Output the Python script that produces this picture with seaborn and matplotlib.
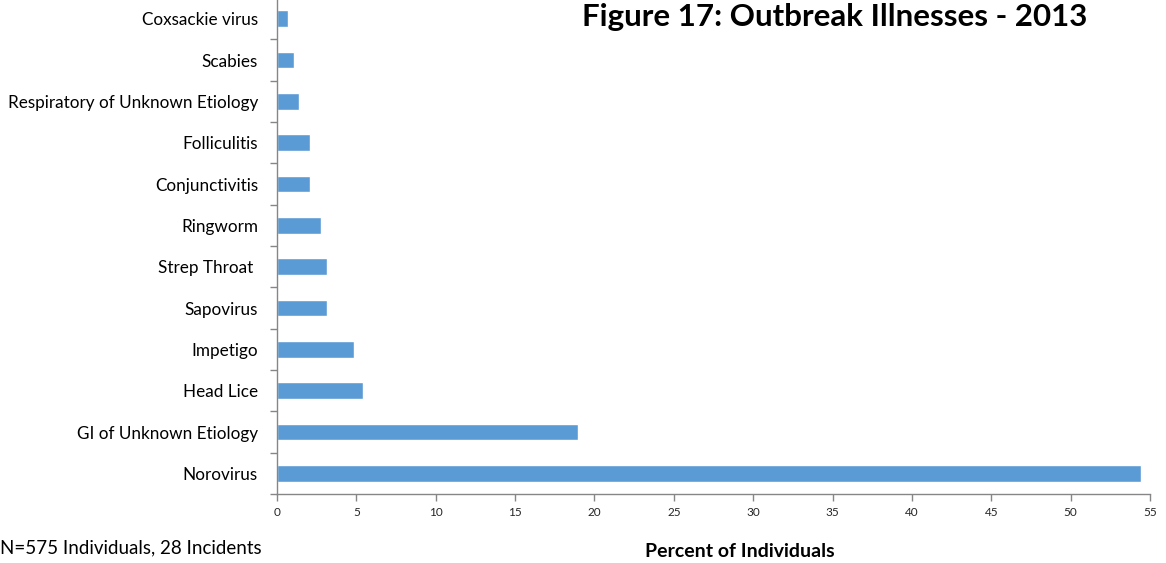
import matplotlib
matplotlib.use("Agg")
import matplotlib.pyplot as plt
import seaborn as sns
import pandas as pd
from matplotlib.ticker import FixedLocator

# Outbreak illnesses, percent of 575 individuals (top of chart first)
illnesses = [
    "Coxsackie virus",
    "Scabies",
    "Respiratory of Unknown Etiology",
    "Folliculitis",
    "Conjunctivitis",
    "Ringworm",
    "Strep Throat ",
    "Sapovirus",
    "Impetigo",
    "Head Lice",
    "GI of Unknown Etiology",
    "Norovirus",
]
percent = [0.70, 1.04, 1.39, 2.09, 2.09, 2.78, 3.13, 3.13, 4.87, 5.39, 18.96, 54.43]
x_ticks = list(range(0, 60, 5))

df = pd.DataFrame({"illness": illnesses, "percent": percent})

sns.set_theme(style="white")
plt.rcParams["font.family"] = ["Lato", "DejaVu Sans"]

fig = plt.figure(figsize=(11.66, 5.63), dpi=100)
ax = fig.add_axes([277 / 1166, 69 / 563, 873 / 1166, 496 / 563])

sns.barplot(data=df, x="percent", y="illness", orient="h", color="#5B9BD5",
            saturation=1, width=0.4, ax=ax)

axis_grey = "#868686"
ax.set_xlim(0, 55)
ax.set_ylim(11.5, -0.5)
ax.set_xticks(x_ticks)
ax.set_xticklabels([str(t) for t in x_ticks], fontsize=8.5, color="#262626")
ax.tick_params(axis="x", length=5, width=1, color=axis_grey, pad=4, direction="out", bottom=True)
ax.tick_params(axis="y", which="major", length=0, pad=13.7, labelsize=12.3, labelcolor="#000000")
ax.yaxis.set_minor_locator(FixedLocator([i - 0.5 for i in range(13)]))
ax.tick_params(axis="y", which="minor", length=5, width=1, color=axis_grey, left=True, direction="out")
for side in ("top", "right"):
    ax.spines[side].set_visible(False)
for side in ("left", "bottom"):
    ax.spines[side].set_color(axis_grey)
    ax.spines[side].set_linewidth(1)
ax.set_xlabel("")
ax.set_ylabel("")

fig.text(835 / 1166, 1 - 26 / 563, "Figure 17: Outbreak Illnesses - 2013",
         ha="center", va="baseline", fontsize=22.5, fontweight="bold", color="#000000")
fig.text(740 / 1166, 1 - 557 / 563, "Percent of Individuals",
         ha="center", va="baseline", fontsize=14, fontweight="bold", color="#000000")
fig.text(0 / 1166, 1 - 553 / 563, "N=575 Individuals, 28 Incidents",
         ha="left", va="baseline", fontsize=13.5, color="#000000")

fig.savefig("out.png", dpi=100)
